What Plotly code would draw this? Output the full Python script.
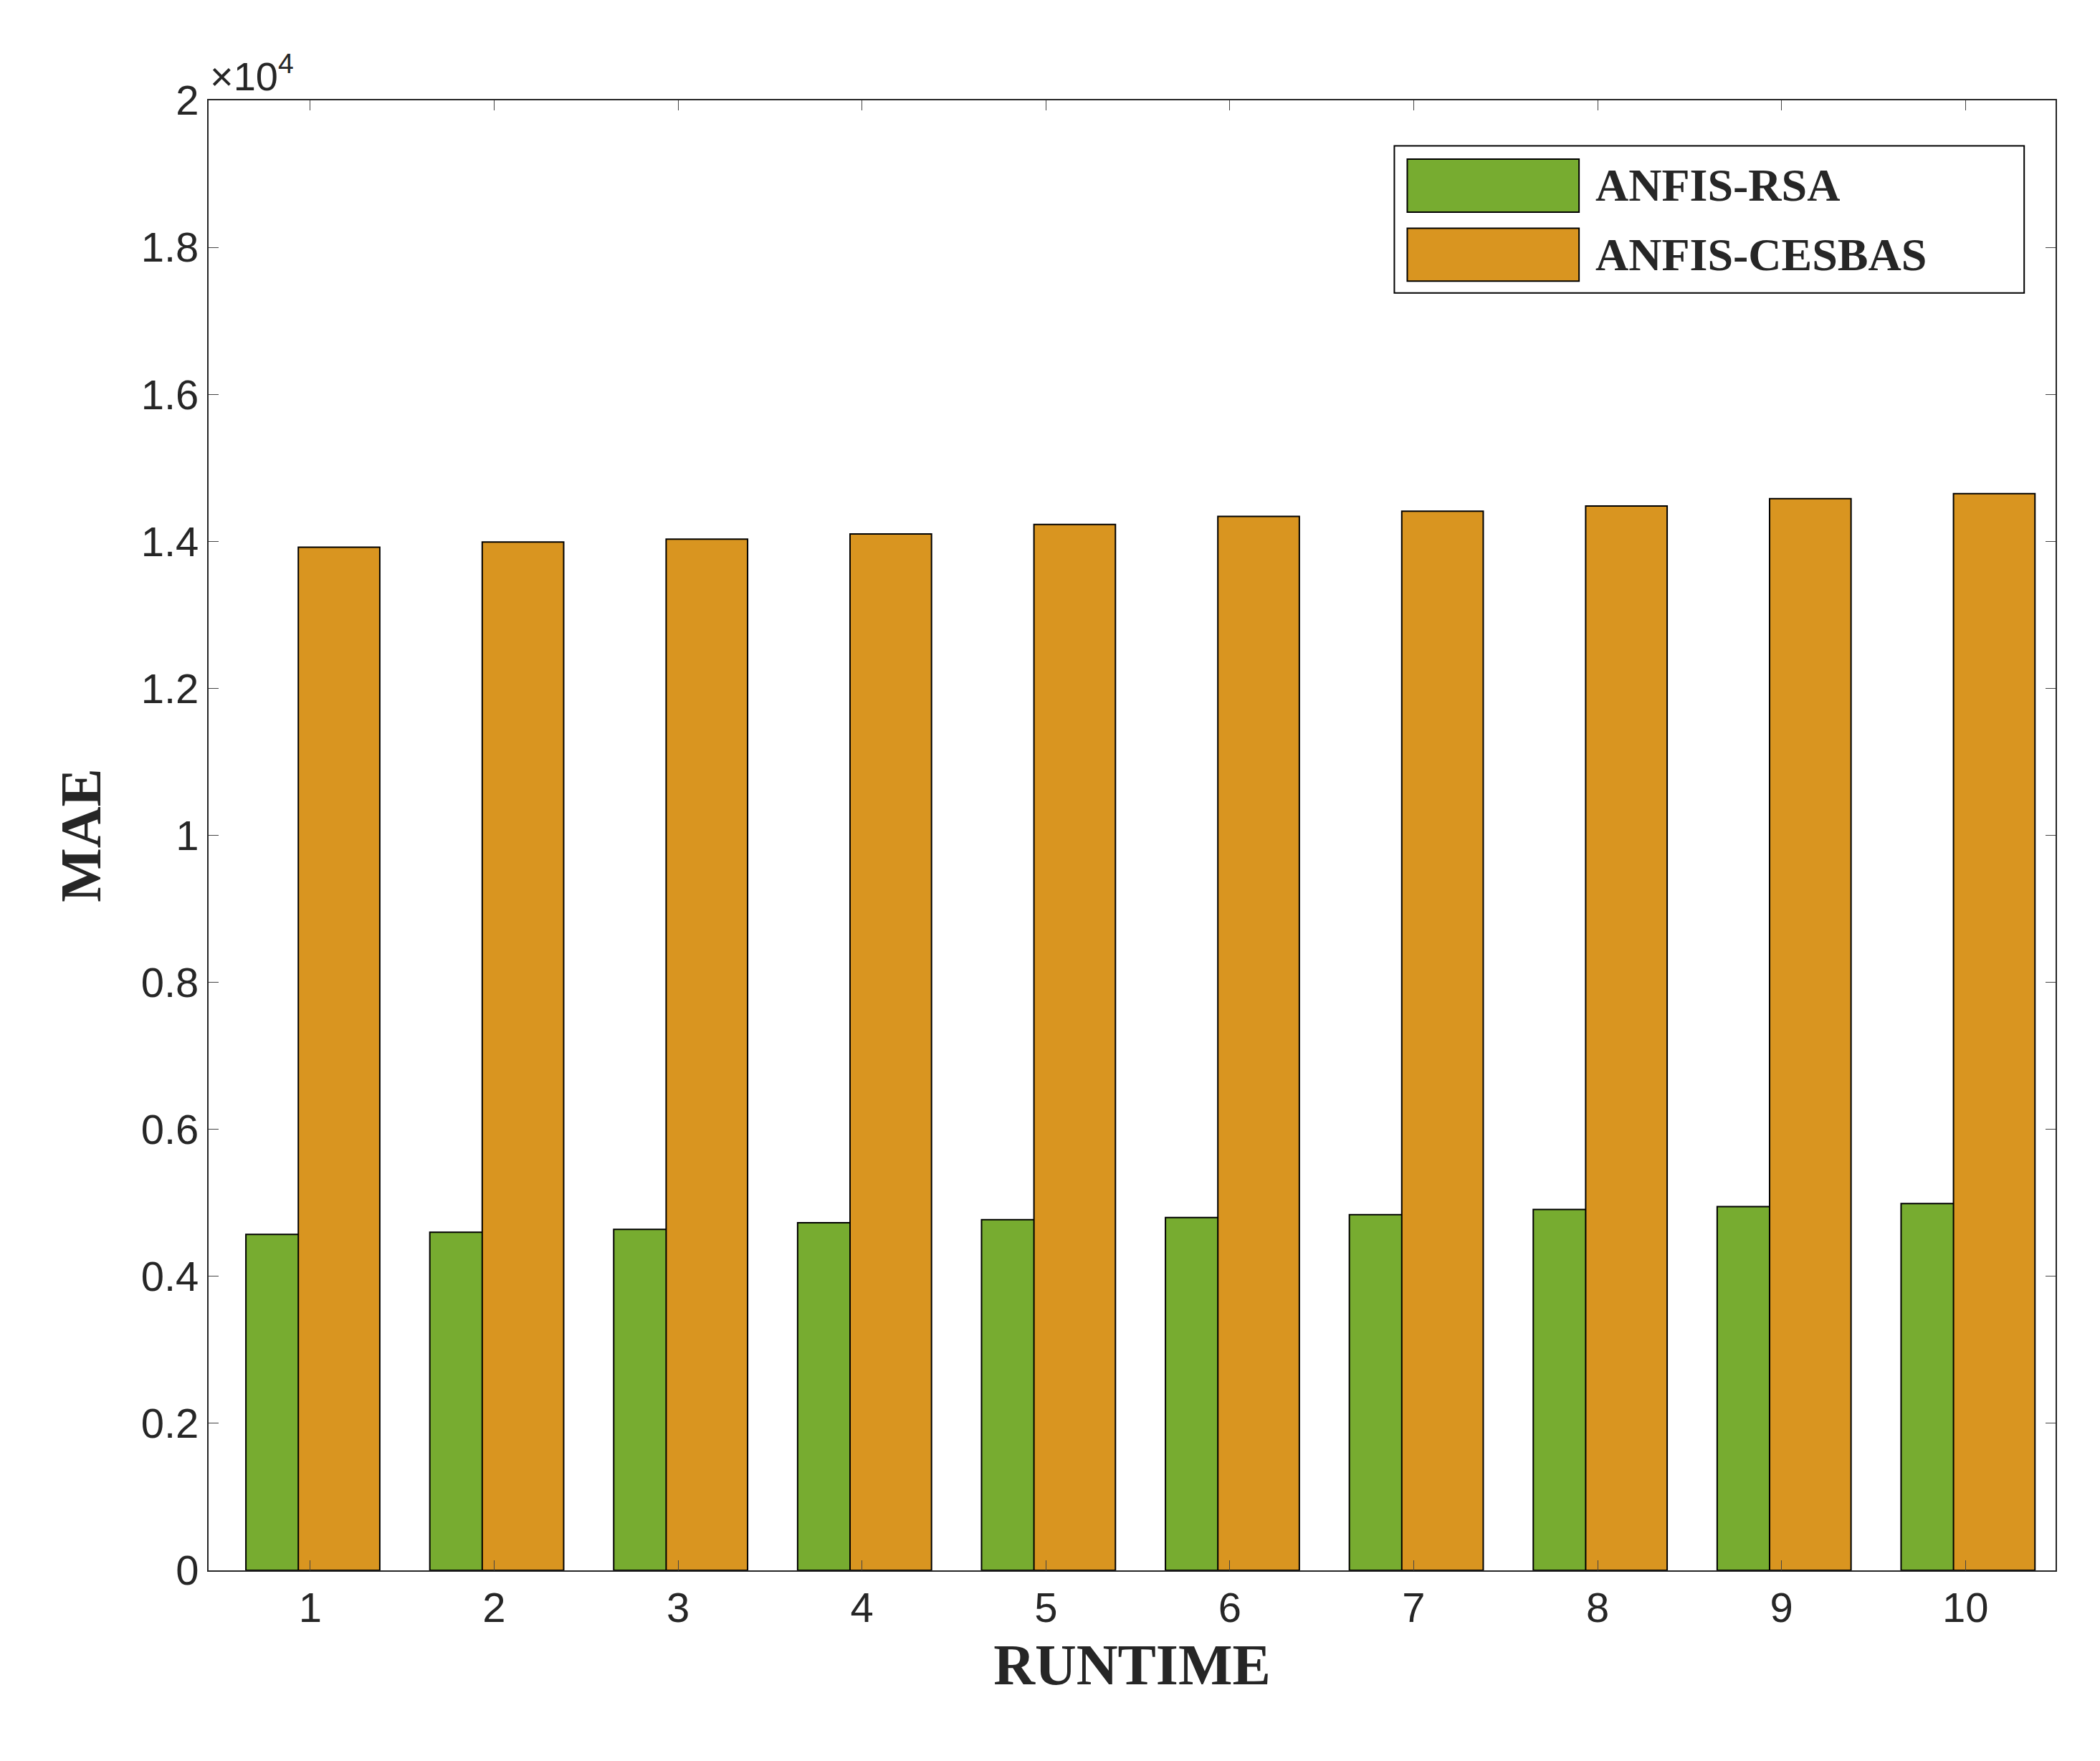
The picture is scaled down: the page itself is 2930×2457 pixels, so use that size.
import plotly.graph_objects as go

runs = [1, 2, 3, 4, 5, 6, 7, 8, 9, 10]
rsa = [4570, 4600, 4640, 4730, 4770, 4800, 4840, 4910, 4950, 4990]
cesbas = [13920, 13990, 14030, 14100, 14230, 14340, 14410, 14480, 14580, 14650]
ytick_vals = [0, 2000, 4000, 6000, 8000, 10000, 12000, 14000, 16000, 18000, 20000]
ytick_text = ["0", "0.2", "0.4", "0.6", "0.8", "1", "1.2", "1.4", "1.6", "1.8", "2"]
names = ["ANFIS-RSA", "ANFIS-CESBAS"]
colors = ["#77AC30", "#D99520"]

fig = go.Figure()
fig.add_trace(go.Bar(x=runs, y=rsa, name=names[0], offset=-0.35, width=0.44,
                     marker=dict(color=colors[0], line=dict(color="black", width=2))))
fig.add_trace(go.Bar(x=runs, y=cesbas, name=names[1], offset=-0.065, width=0.443,
                     marker=dict(color=colors[1], line=dict(color="black", width=2))))

fig.update_layout(
    width=2930, height=2457, barmode="overlay", showlegend=False,
    plot_bgcolor="white", paper_bgcolor="white",
    margin=dict(l=283, r=70, t=132, b=274),
    font=dict(family="Arial, Liberation Sans", size=58, color="#262626"),
)
fig.update_xaxes(range=[0.447, 10.49], tickvals=runs, ticks="inside", ticklen=14,
                 mirror="ticks", showline=True, linecolor="#262626", linewidth=2,
                 title=dict(text="<b>RUNTIME</b>", standoff=20,
                            font=dict(family="Liberation Serif", size=80, color="#262626")))
fig.update_yaxes(range=[0, 20000], tickvals=ytick_vals, ticktext=ytick_text,
                 ticks="inside", ticklen=14, mirror="ticks", showline=True,
                 linecolor="#262626", linewidth=2, showgrid=False, zeroline=False,
                 title=dict(text="<b>MAE</b>", standoff=30,
                            font=dict(family="Liberation Serif", size=80, color="#262626")))
fig.add_annotation(text="×10<sup>4</sup>", xref="paper", yref="paper", x=0, y=1.0,
                   xanchor="left", yanchor="bottom", showarrow=False,
                   font=dict(size=56, color="#262626"))

# legend drawn manually (MATLAB style, large swatches)
fig.add_shape(type="rect", xref="paper", yref="paper", x0=0.642, x1=0.983,
              y0=0.869, y1=0.969, line=dict(color="black", width=2), fillcolor="white")
for i, (nm, c) in enumerate(zip(names, colors)):
    y0 = [0.924, 0.877][i]
    fig.add_shape(type="rect", xref="paper", yref="paper", x0=0.649, x1=0.742,
                  y0=y0, y1=y0 + 0.036, line=dict(color="black", width=2), fillcolor=c)
    fig.add_annotation(text="<b>" + nm + "</b>", xref="paper", yref="paper",
                       x=0.750, y=y0 + 0.018, xanchor="left", yanchor="middle",
                       showarrow=False,
                       font=dict(family="Liberation Serif", size=64, color="#262626"))
fig.write_html("out.html")
